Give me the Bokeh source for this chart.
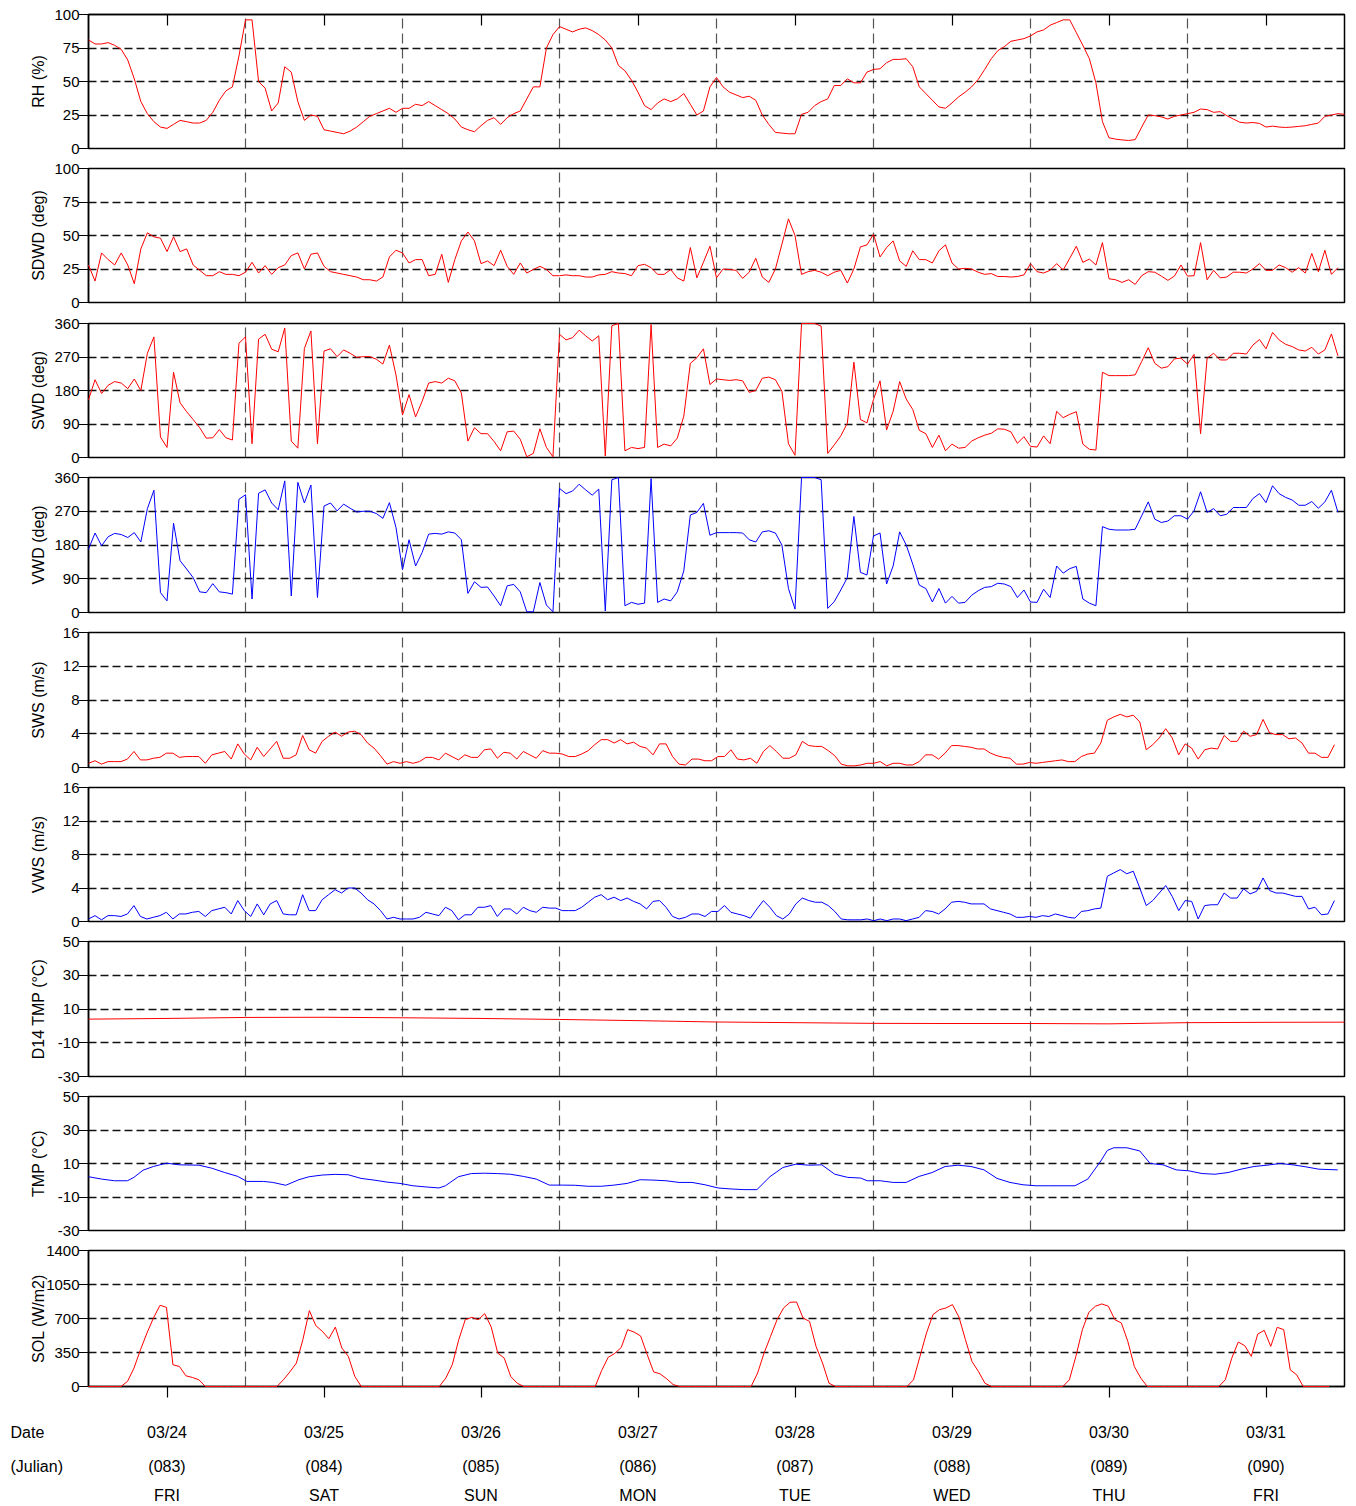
from bokeh.plotting import figure
from bokeh.models import Range1d, FixedTicker, LinearAxis
from bokeh.layouts import column
from bokeh.core.properties import value
from bokeh.embed import file_html
from bokeh.resources import INLINE

FONT = "Liberation Sans"

# ---------------- data ----------------
noon_ticks = [12, 36, 60, 84, 108, 132, 156, 180]
midnights = [24, 48, 72, 96, 120, 144, 168]
date_labels = ["03/24", "03/25", "03/26", "03/27", "03/28", "03/29", "03/30", "03/31"]
julian_labels = ["(083)", "(084)", "(085)", "(086)", "(087)", "(088)", "(089)", "(090)"]
dow_labels = ["FRI", "SAT", "SUN", "MON", "TUE", "WED", "THU", "FRI"]
row_titles = ["Date", "(Julian)"]

rh = [81, 78, 78, 79, 77, 74, 66, 52, 35, 26, 20, 16, 15, 18, 21, 20, 19, 19, 21, 27, 36, 43, 46, 69,
      96, 96, 50, 45, 28, 34, 61, 57, 35, 21, 25, 24, 14, 13, 12, 11, 13, 16, 20, 24, 26, 28, 30, 27,
      30, 30, 33, 32, 35, 32, 29, 26, 22, 16, 14, 12.5, 17, 21, 23, 18, 23, 26, 28, 37, 46, 46, 75, 85,
      91, 89, 87, 89, 90, 88, 85, 81, 75, 62, 58, 51, 42, 32, 29, 34, 37, 35, 37, 41, 33, 25, 28, 46,
      53, 46, 42, 40, 38, 39, 36, 25, 18, 12, 11.5, 11, 11, 25.5, 27, 32, 35, 37, 47, 47, 52, 49, 49, 57,
      59, 59.5, 64, 66.5, 66.5, 67, 61, 46, 41, 36, 31, 30, 34, 38.5, 42, 46, 51.5, 59, 67, 73, 76, 80, 81, 82,
      84, 87, 88.5, 92, 94, 96, 96, 86.5, 77, 67, 49, 20, 8, 7, 6.4, 6, 6.6, 16, 25, 24.5, 23.6, 22, 24, 25,
      26, 27, 29.5, 29, 27, 27.5, 24.5, 22, 19.6, 19, 19.4, 18.7, 16, 16.7, 16, 15.7, 16, 16.5, 17, 18, 19, 24, 25, 26, 25.5]

sdwd = [28, 16, 37, 32, 28, 37, 28, 14, 40, 52, 49, 48, 38, 49, 38, 40, 28, 24, 20, 20, 23, 21, 21, 20,
        22.6, 30, 22, 27.5, 21, 26, 28, 35, 37, 25, 36, 37, 27, 23, 22, 21, 20, 19, 17, 17, 16, 19, 34, 39,
        37, 29.5, 32, 32, 20, 21, 36, 15, 32, 46, 52.6, 46, 29, 31, 27.5, 39, 27, 21, 29.5, 22, 24.6, 27, 24.6, 20,
        20, 20.6, 20, 20, 19, 19, 20.6, 21, 23, 22, 21.6, 20, 27.5, 28.5, 26, 21, 21, 24.6, 18.4, 16, 41, 18.4, 30, 42,
        18.4, 25, 24.6, 24, 18, 22.6, 33, 19, 15, 25, 43.5, 62.4, 50, 21, 23, 24, 22.6, 20, 22.6, 24, 14.5, 25, 41.5, 43,
        51, 34, 41, 46, 31, 27, 38.6, 32, 32, 29.5, 38.6, 43, 29.5, 25, 25.5, 25, 22.6, 21, 21.6, 19.4, 19.4, 19, 19.4, 20.6,
        29, 23, 22, 24, 29, 24.3, 33, 42, 30, 32.4, 28, 44.7, 17.7, 17, 15, 17, 13.5, 20, 23, 22.6, 19.7, 16.5, 19.7, 28,
        19.7, 20, 44.7, 17, 24, 18.4, 19, 22.6, 22.6, 22, 25, 29, 24, 24, 28, 26, 22.6, 26, 22, 36.6, 23, 39, 21, 26]

swd = [155, 209, 172, 194, 204, 200, 185, 211, 180, 280, 324, 55, 27, 229, 147, 123, 102, 80, 52, 53, 75, 53, 47, 307,
       324, 37, 318, 331, 291, 284, 348, 44, 25, 293, 340, 37, 286, 292, 271, 289, 280, 269, 271, 271, 264, 251, 302, 222,
       114, 169, 109, 151, 200, 204, 200, 213, 206, 173, 44, 80, 64, 64, 43, 18, 69, 71, 49, 2, 11, 77, 27, 2,
       331, 316, 322, 342, 327, 313, 327, 4, 354, 360, 18, 27, 24, 27, 357, 27, 36, 31, 52, 111, 253, 268, 292, 196,
       211, 209, 207, 209, 206, 175, 180, 213, 216, 209, 178, 37, 6, 360, 360, 360, 353, 11, 34, 58, 92, 256, 102, 93,
       156, 206, 74, 124, 204, 157, 129, 73, 64, 27, 60, 18, 36, 25, 27, 44, 53, 60, 65, 77, 76, 69, 38, 56,
       30, 28, 58, 37, 124, 107, 116, 123, 36, 22, 20, 229, 220, 220, 220, 220, 222, 258, 295, 253, 240, 244, 265, 267,
       251, 277, 64, 267, 280, 262, 262, 280, 280, 278, 302, 317, 292, 336, 316, 304, 298, 289, 286, 296, 278, 289, 332, 273]

vwd = [169, 212, 178, 202, 211, 208, 200, 213, 188, 277, 326, 53, 31, 238, 138, 116, 93, 55, 53, 77, 55, 53, 49, 302,
       314, 36, 318, 327, 292, 274, 351, 44, 347, 292, 340, 40, 284, 292, 271, 289, 278, 268, 270, 270, 264, 251, 293, 227,
       114, 194, 124, 160, 209, 211, 209, 215, 212, 194, 51, 82, 67, 68, 44, 18, 71, 75, 55, 2, 2, 80, 20, 2,
       331, 317, 324, 342, 327, 313, 329, 4, 354, 360, 18, 27, 22, 25, 357, 27, 36, 31, 55, 111, 260, 267, 291, 206,
       213, 213, 213, 213, 212, 194, 188, 215, 218, 212, 180, 64, 9, 360, 360, 360, 354, 11, 29, 60, 93, 256, 107, 100,
       204, 212, 76, 124, 215, 180, 129, 73, 64, 28, 64, 25, 43, 25, 27, 46, 58, 67, 69, 78, 76, 69, 40, 60,
       28, 27, 62, 40, 124, 105, 117, 123, 36, 25, 18, 229, 222, 220, 220, 220, 222, 258, 295, 249, 240, 244, 258, 258,
       249, 271, 322, 267, 277, 258, 262, 280, 280, 280, 304, 317, 293, 338, 317, 307, 300, 286, 286, 296, 278, 295, 326, 267]

sws = [0.5, 0.8, 0.4, 0.7, 0.7, 0.7, 1.0, 1.9, 0.9, 0.9, 1.1, 1.2, 1.7, 1.7, 1.2, 1.3, 1.3, 1.3, 0.5, 1.5, 1.7, 1.9, 1.0, 2.8,
       1.6, 0.9, 2.4, 1.3, 2.2, 3.1, 1.1, 1.1, 1.5, 3.8, 2.1, 1.7, 3.1, 3.7, 4.2, 3.7, 4.2, 4.3, 3.9, 2.9, 2.3, 1.4, 0.4, 0.7,
       0.5, 0.7, 0.5, 0.7, 1.2, 1.2, 0.9, 1.7, 1.3, 0.9, 1.5, 1.2, 1.2, 2.1, 2.2, 1.1, 1.8, 1.7, 1.0, 1.9, 1.5, 1.1, 2.0, 1.7,
       1.7, 1.6, 1.3, 1.3, 1.6, 2.0, 2.7, 3.3, 3.3, 2.9, 3.3, 2.8, 3.0, 2.5, 2.3, 1.5, 2.8, 2.8, 1.3, 0.4, 0.3, 1.0, 1.0, 0.8,
       0.8, 1.3, 1.3, 2.1, 1.0, 0.9, 1.1, 0.5, 1.9, 2.6, 1.9, 1.1, 1.1, 1.5, 3.1, 2.6, 2.5, 2.5, 2.0, 1.4, 0.4, 0.2, 0.2, 0.3,
       0.5, 0.5, 0.7, 0.2, 0.5, 0.5, 0.3, 0.3, 0.7, 1.5, 1.5, 1.0, 1.7, 2.6, 2.6, 2.5, 2.4, 2.2, 2.2, 1.7, 1.4, 1.2, 1.1, 0.4,
       0.4, 0.6, 0.5, 0.6, 0.7, 0.8, 0.9, 0.7, 0.7, 1.3, 1.6, 1.7, 2.9, 5.6, 6.0, 6.3, 6.0, 6.2, 5.4, 2.1, 2.7, 3.5, 4.6, 3.5,
       1.5, 2.8, 2.3, 1.0, 2.1, 2.3, 2.2, 3.8, 3.1, 3.1, 4.3, 3.7, 3.9, 5.7, 4.1, 3.9, 3.9, 3.4, 3.5, 2.9, 1.7, 1.7, 1.2, 1.2, 2.7]

vws = [0.3, 0.7, 0.2, 0.7, 0.7, 0.6, 0.9, 1.9, 0.6, 0.3, 0.5, 0.7, 1.1, 0.3, 0.9, 0.9, 1.1, 1.2, 0.6, 1.3, 1.5, 1.7, 0.9, 2.5,
       1.3, 0.6, 2.1, 0.8, 2.1, 2.5, 0.9, 0.8, 0.8, 3.2, 1.3, 1.3, 2.6, 3.2, 3.8, 3.4, 4.0, 4.0, 3.4, 2.6, 2.1, 1.3, 0.3, 0.5,
       0.3, 0.3, 0.3, 0.5, 1.1, 0.9, 0.7, 1.7, 1.3, 0.2, 0.8, 0.8, 1.7, 1.7, 1.9, 0.6, 1.5, 1.5, 0.9, 1.7, 1.3, 1.1, 1.7, 1.6,
       1.6, 1.3, 1.3, 1.3, 1.7, 2.3, 2.9, 3.2, 2.6, 2.9, 2.5, 2.8, 2.4, 2.1, 1.5, 2.4, 2.5, 1.7, 0.6, 0.3, 0.5, 0.9, 0.9, 0.6,
       1.2, 1.2, 1.9, 1.1, 0.9, 0.7, 0.4, 1.5, 2.5, 1.7, 0.7, 0.3, 0.9, 2.1, 2.8, 2.5, 2.3, 2.3, 1.9, 1.2, 0.3, 0.2, 0.2, 0.2,
       0.3, 0.1, 0.3, 0.1, 0.3, 0.3, 0.1, 0.3, 0.5, 1.3, 1.2, 0.9, 1.5, 2.3, 2.4, 2.3, 2.1, 2.1, 2.1, 1.5, 1.3, 1.1, 0.9, 0.5,
       0.5, 0.6, 0.5, 0.7, 0.6, 0.9, 0.7, 0.5, 0.4, 1.2, 1.3, 1.5, 1.6, 5.4, 5.8, 6.2, 5.7, 6.0, 4.0, 1.9, 2.5, 3.4, 4.3, 3.0,
       1.3, 2.5, 2.4, 0.3, 1.9, 2.0, 2.0, 3.4, 2.8, 2.8, 3.9, 3.3, 3.6, 5.2, 3.7, 3.4, 3.4, 3.2, 3.0, 3.0, 1.5, 1.7, 0.8, 0.9, 2.5]

d14_hours = [0, 12, 24, 36, 48, 60, 72, 84, 96, 108, 120, 132, 144, 156, 168, 180, 192]
d14_tmp = [4.0, 4.4, 5.0, 5.1, 4.8, 4.4, 3.8, 3.1, 2.3, 1.9, 1.5, 1.4, 1.4, 1.2, 1.9, 2.1, 2.2]

tmp_hours = [0, 2, 4, 6, 7, 8.4, 10, 12, 14, 17, 19, 21, 23, 24.4, 27, 28.4, 30.4, 32.4, 34, 36,
             38, 40, 42, 44, 46, 48, 50, 52, 54, 55, 57, 59, 61, 63, 65, 67, 69, 71, 73, 75,
             77, 79, 81, 83, 85, 87, 89, 91, 93, 95, 97, 99, 101, 103, 105, 107, 109, 111, 113, 115,
             117, 119, 120, 122, 124, 126, 128, 130, 132, 134, 136, 138, 140, 142, 144, 146, 148, 150, 152, 154,
             156, 157, 158, 160, 162, 163.6, 165.6, 167.6, 169.6, 171.6, 173.6, 175.6, 177.6, 179.6, 181.6,
             183.6, 185.6, 187.6, 189.6, 192.5]
tmp = [2.1, 0.7, -0.3, -0.3, 1.7, 6, 8.2, 10.2, 9.2, 9.0, 7.2, 4.6, 2.3, -0.7, -0.7, -1.3, -3, 0.3, 2.1, 3.1,
       3.5, 3.3, 1.1, 0.1, -1.1, -1.9, -3.3, -4, -4.6, -3.3, 2.1, 4, 4.2, 4, 3.6, 2.3, 0.7, -2.9, -2.9, -3,
       -3.6, -3.6, -2.9, -1.9, 0.3, 0.1, -0.3, -1.3, -1.3, -2.7, -4.6, -5.2, -5.6, -5.6, 2.1, 7.6, 9.6, 9, 9.2, 3.6,
       1.7, 1.3, -0.3, -0.3, -1.3, -1.3, 2.3, 4.6, 8.2, 9, 8.2, 6.2, 1.1, -1.3, -2.7, -3.3, -3.3, -3.3, -3.3, 0.7,
       11.5, 17.8, 19.4, 19.4, 17.5, 10, 9.2, 6.2, 5.6, 4, 3.6, 4.6, 6.6, 8.2, 9,
       10, 9.2, 8, 6.6, 6.2]

sol = ([0, 0, 0, 0, 0, 0, 52, 189, 378, 550, 705, 836, 815, 224, 206, 110, 93, 69, 0, 0, 0, 0, 0, 0] +
       [0, 0, 0, 0, 0, 0, 69, 150, 241, 482, 781, 626, 568, 492, 612, 396, 310, 103, 0, 0, 0, 0, 0, 0] +
       [0, 0, 0, 0, 0, 0, 0, 86, 224, 482, 688, 712, 688, 750, 612, 344, 292, 103, 34, 0, 0, 0, 0, 0] +
       [0, 0, 0, 0, 0, 0, 0, 165, 300, 340, 400, 585, 560, 520, 330, 150, 130, 80, 20, 0, 0, 0, 0, 0] +
       [0, 0, 0, 0, 0, 0, 0, 138, 344, 516, 688, 808, 867, 870, 705, 670, 413, 241, 34, 0, 0, 0, 0, 0] +
       [0, 0, 0, 0, 0, 0, 0, 69, 310, 550, 740, 791, 808, 843, 715, 482, 258, 155, 34, 0, 0, 0, 0, 0] +
       [0, 0, 0, 0, 0, 0, 0, 69, 310, 585, 764, 826, 850, 826, 688, 654, 464, 206, 86, 0, 0, 0, 0, 0] +
       [0, 0, 0, 0, 0, 0, 0, 69, 292, 458, 420, 310, 540, 578, 413, 609, 585, 172, 120, 0, 0, 0, 0, 0])

# sampling interval (hours) of the series read from the full-width views
STEP_FULL = 0.992
hourly = lambda n: list(range(n))
sampled = lambda n: [i * STEP_FULL for i in range(n)]

RED = "#ff0000"
BLUE = "#0000ff"

panels = [
    dict(title="RH (%)", lo=0, hi=100, ticks=[0, 25, 50, 75, 100], t=hourly(len(rh)), v=rh, color=RED),
    dict(title="SDWD (deg)", lo=0, hi=100, ticks=[0, 25, 50, 75, 100], t=hourly(len(sdwd)), v=sdwd, color=RED),
    dict(title="SWD (deg)", lo=0, hi=360, ticks=[0, 90, 180, 270, 360], t=hourly(len(swd)), v=swd, color=RED),
    dict(title="VWD (deg)", lo=0, hi=360, ticks=[0, 90, 180, 270, 360], t=hourly(len(vwd)), v=vwd, color=BLUE),
    dict(title="SWS (m/s)", lo=0, hi=16, ticks=[0, 4, 8, 12, 16], t=sampled(len(sws)), v=sws, color=RED),
    dict(title="VWS (m/s)", lo=0, hi=16, ticks=[0, 4, 8, 12, 16], t=sampled(len(vws)), v=vws, color=BLUE),
    dict(title="D14 TMP (°C)", lo=-30, hi=50, ticks=[-30, -10, 10, 30, 50], t=d14_hours, v=d14_tmp, color=RED),
    dict(title="TMP (°C)", lo=-30, hi=50, ticks=[-30, -10, 10, 30, 50], t=[h * STEP_FULL for h in tmp_hours], v=tmp, color=BLUE),
    dict(title="SOL (W/m2)", lo=0, hi=1400, ticks=[0, 350, 700, 1050, 1400], t=[i * 0.993 for i in range(len(sol))], v=sol, color=RED),
]

# ---------------- layout / style ----------------
# (figure height, top border, bottom border, axis-title standoff)
sizes = [(158, 14, 10, 4), (154, 10, 10, 4), (155, 11, 10, 4), (155, 10, 10, 4), (155, 10, 10, 13),
         (154, 10, 10, 13), (155, 10, 10, 8), (154, 10, 10, 8), (158, 10, 12, -4)]
FIG_W = 1348
LEFT = 88
RIGHT = 4
HOURS = 192

x_range = Range1d(0, HOURS)
figs = []
for i, (pn, (h, bt, bb, ast)) in enumerate(zip(panels, sizes)):
    p = figure(width=FIG_W, height=h, x_range=x_range, y_range=Range1d(pn["lo"], pn["hi"]),
               x_axis_location=None, toolbar_location=None, output_backend="svg",
               min_border_left=LEFT, min_border_right=RIGHT, min_border_top=bt, min_border_bottom=bb)
    p.outline_line_color = "black"
    p.outline_line_width = 1.5
    p.background_fill_color = "white"
    p.border_fill_color = "white"

    yt = FixedTicker(ticks=pn["ticks"])
    ya = p.yaxis[0]
    ya.ticker = yt
    ya.major_tick_out = 10
    ya.major_tick_in = 0
    ya.minor_tick_line_color = None
    ya.axis_line_width = 1.5
    ya.major_tick_line_width = 1.2
    ya.major_label_standoff = -1
    ya.major_label_text_font = FONT
    ya.major_label_text_font_size = "15px"
    ya.major_label_text_color = "black"
    ya.major_label_overrides = {t: str(t) for t in pn["ticks"] if t < 0}
    ya.axis_label = pn["title"]
    ya.axis_label_text_font = FONT
    ya.axis_label_text_font_size = "16px"
    ya.axis_label_text_font_style = "normal"
    ya.axis_label_text_color = "black"
    ya.axis_label_standoff = ast

    p.ygrid.ticker = yt
    p.ygrid.grid_line_color = "#111111"
    p.ygrid.grid_line_dash = "8 4"
    p.ygrid.grid_line_width = 1.3

    p.xgrid.ticker = FixedTicker(ticks=midnights)
    p.xgrid.grid_line_color = "#555555"
    p.xgrid.grid_line_dash = "10 5"
    p.xgrid.grid_line_width = 1.2

    p.line(pn["t"], pn["v"], line_color=pn["color"], line_width=1, level="overlay")

    if i == 0:
        top = LinearAxis(ticker=FixedTicker(ticks=noon_ticks), major_tick_in=11, major_tick_out=0,
                         axis_line_width=1.5, major_tick_line_width=1.2,
                         major_label_overrides={t: "" for t in noon_ticks},
                         major_label_text_font_size="1px", major_label_standoff=0,
                         minor_tick_line_color=None)
        p.add_layout(top, "above")
    if i == len(panels) - 1:
        bot = LinearAxis(ticker=FixedTicker(ticks=noon_ticks), major_tick_in=0, major_tick_out=11,
                         axis_line_width=1.5, major_tick_line_width=1.2,
                         major_label_overrides={t: "" for t in noon_ticks},
                         major_label_text_font_size="1px", major_label_standoff=0,
                         minor_tick_line_color=None)
        p.add_layout(bot, "below")
    figs.append(p)

# ---- date block: same hour scale as the panels, frame spanning the full width ----
DATE_H = 108
ROW_Y = [34, 68, 97]          # row centres, px from the top of this block
px_per_hour = (FIG_W - LEFT - RIGHT) / HOURS
dx_range = Range1d(-LEFT / px_per_hour, HOURS + RIGHT / px_per_hour)
d = figure(width=FIG_W, height=DATE_H, x_range=dx_range, y_range=Range1d(DATE_H, 0),
           x_axis_location=None, y_axis_location=None, toolbar_location=None, output_backend="svg",
           min_border_left=0, min_border_right=0, min_border_top=0, min_border_bottom=0)
d.frame_align = False
d.outline_line_color = None
d.xgrid.visible = False
d.ygrid.visible = False
for row, labels in zip(ROW_Y, [date_labels, julian_labels, dow_labels]):
    d.text(x=noon_ticks, y=[row] * len(noon_ticks), text=labels, text_align="center",
           text_baseline="middle", text_font=value(FONT), text_font_size="16px", text_color="black")
d.text(x=[dx_range.start] * 2, y=ROW_Y[:2], text=row_titles, x_offset=10, text_align="left",
       text_baseline="middle", text_font=value(FONT), text_font_size="16px", text_color="black")
figs.append(d)

layout = column(*figs)
open("out.html", "w").write(file_html(layout, INLINE))
